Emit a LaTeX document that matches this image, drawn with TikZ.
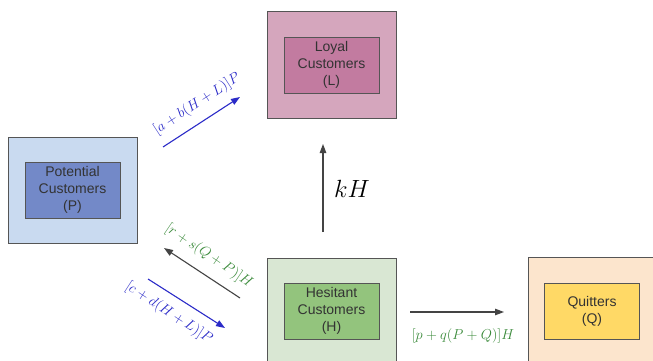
\documentclass[tikz,border=0pt]{standalone}
\usepackage{fontspec}
\setmainfont{Liberation Sans}
\usepackage{tikz}
\usetikzlibrary{arrows.meta,positioning}
\definecolor{ink}{HTML}{555555}
\definecolor{boxtext}{HTML}{333333}
\definecolor{arrowgray}{HTML}{444444}
\definecolor{flowblue}{HTML}{2B2BC8}
\definecolor{flowgreen}{HTML}{3A8A3A}
\definecolor{pouter}{HTML}{C9DAF0}
\definecolor{pinner}{HTML}{7389C8}
\definecolor{louter}{HTML}{D5A6BD}
\definecolor{linner}{HTML}{C27BA0}
\definecolor{houter}{HTML}{D9E7D3}
\definecolor{hinner}{HTML}{93C47D}
\definecolor{qouter}{HTML}{FCE5CD}
\definecolor{qinner}{HTML}{FFD966}
\tikzset{
  outer/.style={rectangle, draw=ink, line width=1pt, minimum width=129pt, minimum height=106pt},
  inner/.style={rectangle, draw=ink, line width=0.8pt, minimum width=95pt, minimum height=56pt, align=center, text=boxtext, font=\fontsize{14}{17}\selectfont},
  arrow/.style={-{Triangle[length=9pt,width=6.5pt]}, line width=1.1pt, draw=arrowgray},
  bluearrow/.style={-{Triangle[length=9pt,width=6.5pt]}, line width=1.1pt, draw=flowblue},
  rate/.style={font=\fontsize{14.5}{16}\selectfont, inner sep=1pt}
}
\begin{document}
\begin{tikzpicture}[x=1pt,y=-1pt]
  \clip (0,0) rectangle (653,361);
  \fill[white] (0,0) rectangle (653,361);
  % compartments
  \node[outer, fill=pouter] (pbox) at (72.5,190) {};
  \node[inner, fill=pinner] (potential) at (72.5,190) {Potential\\Customers\\(P)};
  \node[outer, fill=louter] (lbox) at (331.5,65) {};
  \node[inner, fill=linner] (loyal) at (331.5,65) {Loyal\\Customers\\(L)};
  \node[outer, fill=houter] (hbox) at (331.5,311) {};
  \node[inner, fill=hinner] (hesitant) at (331.5,311) {Hesitant\\Customers\\(H)};
  \node[outer, fill=qouter] (qbox) at (592.5,310) {};
  \node[inner, fill=qinner] (quitters) at (592,311) {Quitters\\(Q)};
  % arrow ends
  \coordinate (pl0) at (163,147);
  \coordinate (pl1) at (240,97);
  \coordinate (hl0) at (323,232);
  \coordinate (hl1) at (323,144);
  \coordinate (hp0) at (240,298);
  \coordinate (hp1) at (164,248);
  \coordinate (ph0) at (148,279);
  \coordinate (ph1) at (225,328);
  \coordinate (hq0) at (410,312);
  \coordinate (hq1) at (504,312);
  \draw[bluearrow] (pl0) -- (pl1);
  \draw[arrow] (hl0) -- (hl1);
  \draw[arrow] (hp0) -- (hp1);
  \draw[bluearrow] (ph0) -- (ph1);
  \draw[arrow] (hq0) -- (hq1);
  % rates
  \node[rate, text=flowblue, rotate=33] (plrate) at (197,104) {$[a+b(H+L)]P$};
  \node[font=\fontsize{23}{26}\selectfont] (hlrate) at (352,189) {$kH$};
  \node[rate, text=flowgreen, rotate=-34] (hprate) at (209,256) {$[r+s(Q+P)]H$};
  \node[rate, text=flowblue, rotate=-33] (phrate) at (169,313) {$[c+d(H+L)]P$};
  \node[rate, text=flowgreen] (hqrate) at (463,336) {$[p+q(P+Q)]H$};
\end{tikzpicture}
\end{document}
